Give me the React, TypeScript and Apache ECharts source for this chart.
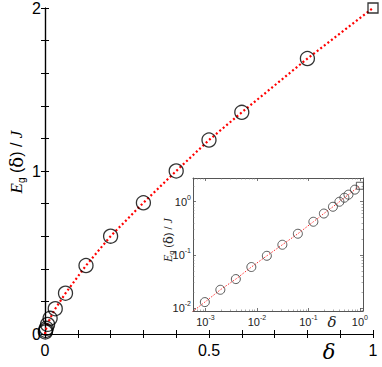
import React, { useEffect, useRef } from "react";
import * as echarts from "echarts";

// Data: excitation gap E_g(δ)/J vs δ
const deltas = [1 / 1024, 1 / 512, 1 / 256, 1 / 128, 1 / 64, 1 / 32, 1 / 16, 1 / 8, 0.2, 0.3, 0.4, 0.5, 0.6, 0.8];
const energies = [0.0129, 0.022, 0.035, 0.059, 0.096, 0.155, 0.25, 0.42, 0.6, 0.805, 1.0, 1.19, 1.36, 1.69];
const endDelta = [1];
const endEnergy = [2];
// fit line end-points (main plot starts at origin, inset extrapolates to lower-left)
const mainFitStart = [0, 0];
const insetFitStart = [0.0005, 0.0078];

const mainXTicks = [0, 0.5, 1];
const mainYTicks = [0, 1, 2];

const FONT = "'Liberation Sans', Arial, sans-serif";

export default function App() {
  const ref = useRef<HTMLDivElement>(null);
  useEffect(() => {
    if (!ref.current) return;
    const chart = echarts.init(ref.current, null, { renderer: "svg" });
    const pts = deltas.map((d, i) => [d, energies[i]]);
    const endPts = endDelta.map((d, i) => [d, endEnergy[i]]);
    const mainLine = [mainFitStart, ...pts, ...endPts];
    const insetLine = [insetFitStart, ...pts, ...endPts];

    const near = (v: number, list: number[]) => list.some((t) => Math.abs(v - t) < 1e-9);
    const logLabel = (v: number) => {
      const e = Math.log10(v);
      const r = Math.round(e);
      if (Math.abs(e - r) > 1e-6) return "";
      return "{b|10}{s|" + (r < 0 ? "-" + Math.abs(r) : String(r)) + "}";
    };
    const logRich = {
      b: { fontSize: 11, fontFamily: FONT, color: "#222" },
      s: { fontSize: 7, fontFamily: FONT, color: "#222", padding: [0, 0, 8, 0] },
    };

    const mainAxisCommon = {
      axisLine: { show: true, lineStyle: { color: "#000", width: 1.2 } },
      axisTick: { show: true, inside: true, length: 4, lineStyle: { color: "#000", width: 1 } },
      splitLine: { show: false },
    };
    const insetAxisCommon = {
      type: "log",
      logBase: 10,
      axisLine: { show: true, lineStyle: { color: "#555", width: 1 } },
      axisTick: { show: true, inside: true, length: 3, lineStyle: { color: "#555", width: 0.8 } },
      minorTick: { show: true, splitNumber: 9, length: 1.5, lineStyle: { color: "#777", width: 0.6 } },
      splitLine: { show: false },
      minorSplitLine: { show: false },
    };

    const labelRich = (size: number, col: string) => ({
      i: { fontSize: size + 1, fontStyle: "italic", fontFamily: "'Liberation Serif', serif", color: col },
      sub: { fontSize: Math.round(size * 0.6), fontFamily: FONT, color: col, padding: [Math.round(size * 0.6), 0, 0, 0] },
      n: { fontSize: size, fontFamily: FONT, color: col },
      d: { fontSize: size + 2, fontFamily: "'DejaVu Serif', serif", color: col },
    });

    const option: any = {
      animation: false,
      backgroundColor: "#fff",
      grid: [
        { left: 45, top: 6, width: 328, height: 328 },
        { left: 193, top: 178, width: 170, height: 133, show: true, backgroundColor: "#fff", borderWidth: 0 },
      ],
      xAxis: [
        {
          ...mainAxisCommon,
          gridIndex: 0,
          type: "value",
          min: 0,
          max: 1,
          interval: 0.1,
          position: "bottom",
          axisLabel: {
            fontSize: 16,
            fontFamily: FONT,
            color: "#000",
            margin: 8,
            formatter: (v: number) => (near(v, mainXTicks) ? String(Math.round(v * 10) / 10) : ""),
          },
        },
        {
          ...mainAxisCommon,
          gridIndex: 0,
          type: "value",
          min: 0,
          max: 1,
          interval: 0.1,
          position: "top",
          axisLabel: { show: false },
        },
        {
          ...insetAxisCommon,
          gridIndex: 1,
          min: 0.000575,
          max: 1.15,
          position: "bottom",
          axisLabel: { margin: 3, color: "#222", formatter: logLabel, rich: logRich },
        },
        {
          ...insetAxisCommon,
          gridIndex: 1,
          min: 0.000575,
          max: 1.15,
          position: "top",
          axisLabel: { show: false },
        },
      ],
      yAxis: [
        {
          ...mainAxisCommon,
          gridIndex: 0,
          type: "value",
          min: 0,
          max: 2,
          interval: 0.2,
          position: "left",
          axisLabel: {
            fontSize: 16,
            fontFamily: FONT,
            color: "#000",
            margin: 4,
            formatter: (v: number) => (near(v, mainYTicks) ? String(Math.round(v)) : ""),
          },
        },
        {
          ...mainAxisCommon,
          gridIndex: 0,
          type: "value",
          min: 0,
          max: 2,
          interval: 0.2,
          position: "right",
          axisLabel: { show: false },
        },
        {
          ...insetAxisCommon,
          gridIndex: 1,
          min: 0.00877,
          max: 2.8,
          position: "left",
          axisLabel: { margin: 2, color: "#222", formatter: logLabel, rich: logRich },
        },
        {
          ...insetAxisCommon,
          gridIndex: 1,
          min: 0.00877,
          max: 2.8,
          position: "right",
          axisLabel: { show: false },
        },
      ],
      series: [
        {
          type: "line",
          xAxisIndex: 0,
          yAxisIndex: 0,
          data: mainLine,
          showSymbol: false,
          symbol: "none",
          lineStyle: { color: "#ff0000", width: 2.2, type: [2, 2.5] },
          z: 1,
        },
        {
          type: "scatter",
          xAxisIndex: 0,
          yAxisIndex: 0,
          data: pts,
          symbol: "circle",
          symbolSize: 14,
          clip: false,
          itemStyle: { color: "rgba(0,0,0,0)", borderColor: "#000", borderWidth: 1.3 },
          z: 3,
        },
        {
          type: "scatter",
          xAxisIndex: 0,
          yAxisIndex: 0,
          data: endPts,
          symbol: "rect",
          symbolSize: 10,
          clip: false,
          itemStyle: { color: "rgba(0,0,0,0)", borderColor: "#000", borderWidth: 1.3 },
          z: 3,
        },
        {
          type: "line",
          xAxisIndex: 2,
          yAxisIndex: 2,
          data: insetLine,
          showSymbol: false,
          symbol: "none",
          clip: true,
          lineStyle: { color: "#ff3030", width: 1, type: [1.5, 1.5] },
          z: 4,
        },
        {
          type: "scatter",
          xAxisIndex: 2,
          yAxisIndex: 2,
          data: pts,
          symbol: "circle",
          symbolSize: 9,
          clip: false,
          itemStyle: { color: "rgba(0,0,0,0)", borderColor: "#333", borderWidth: 1 },
          z: 5,
        },
        {
          type: "scatter",
          xAxisIndex: 2,
          yAxisIndex: 2,
          data: endPts,
          symbol: "rect",
          symbolSize: 7,
          clip: false,
          itemStyle: { color: "rgba(0,0,0,0)", borderColor: "#333", borderWidth: 1 },
          z: 5,
        },
      ],
      graphic: [
        {
          type: "text",
          x: 16,
          y: 162,
          rotation: Math.PI / 2,
          style: {
            text: "{i|E}{sub|g}{n| (}{d|δ}{n|) / }{i|J}",
            align: "center",
            verticalAlign: "middle",
            fill: "#000",
            rich: labelRich(16, "#000"),
          },
        },
        {
          type: "text",
          x: 329,
          y: 352,
          style: {
            text: "δ",
            align: "center",
            verticalAlign: "middle",
            fontSize: 21,
            fontStyle: "italic",
            fontFamily: "'DejaVu Serif', serif",
            fill: "#000",
          },
        },
        {
          type: "text",
          x: 168,
          y: 240,
          rotation: Math.PI / 2,
          style: {
            text: "{i|E}{sub|g}{n| (}{d|δ}{n|) / }{i|J}",
            align: "center",
            verticalAlign: "middle",
            fill: "#222",
            rich: labelRich(11, "#222"),
          },
        },
        {
          type: "text",
          x: 332,
          y: 322,
          style: {
            text: "δ",
            align: "center",
            verticalAlign: "middle",
            fontSize: 15,
            fontStyle: "italic",
            fontFamily: "'DejaVu Serif', serif",
            fill: "#222",
          },
        },
      ],
    };
    chart.setOption(option);
    return () => chart.dispose();
  }, []);
  return <div ref={ref} style={{ width: 382, height: 367, position: "absolute", left: 0, top: 0 }} />;
}
